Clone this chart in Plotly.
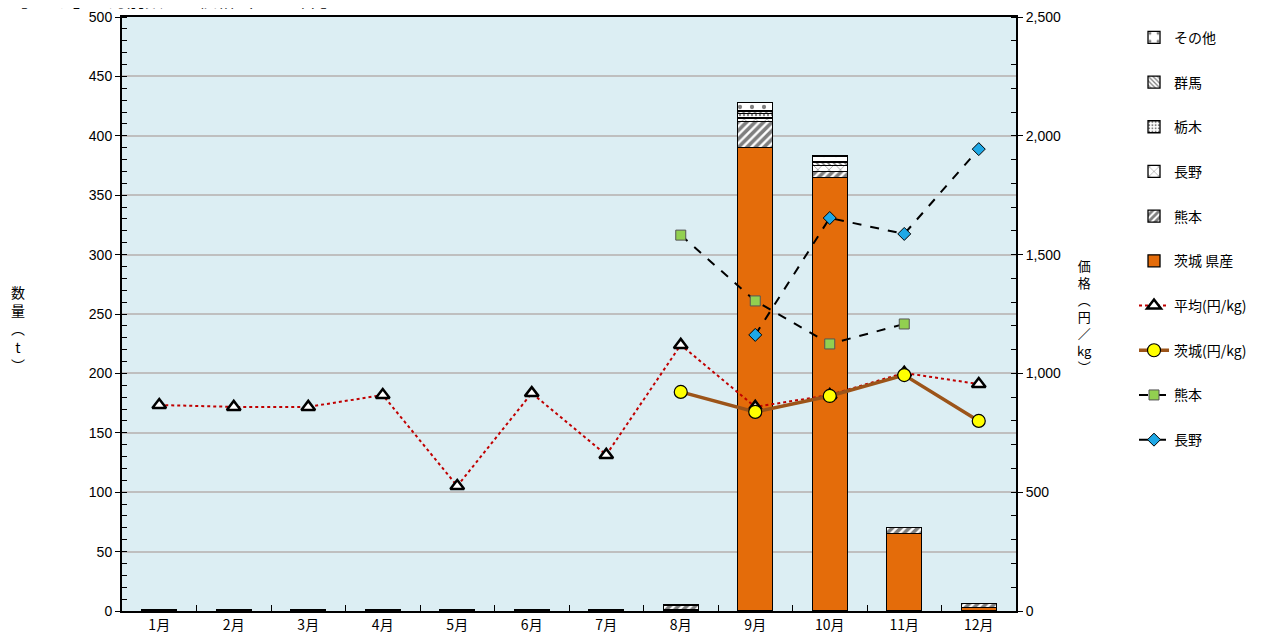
import plotly.graph_objs as go

months = [f"{m}月" for m in range(1, 13)]

# quantities (t), stacked
qty_ibaraki = [0, 0, 0, 0, 0, 0, 0, 1.5, 390, 365, 65, 3]
qty_kumamoto = [0.8, 0.8, 0.8, 0.8, 0.8, 0.8, 0.8, 3.5, 22, 5, 5.5, 3.5]
qty_nagano = [0, 0, 0, 0, 0, 0, 0, 0, 3, 5, 0, 0]
qty_tochigi = [0, 0, 0, 0, 0, 0, 0, 0, 4, 0, 0, 0]
qty_gunma = [0, 0, 0, 0, 0, 0, 0, 0, 2, 3, 0, 0]
qty_other = [0, 0, 0, 0, 0, 0, 0, 0, 7, 5, 0, 0]

# prices (yen/kg)
price_avg = [867, 859, 859, 909, 526, 917, 657, 1120, 859, 909, 1002, 955]
price_ibaraki = [None, None, None, None, None, None, None, 922, 838, 905, 993, 800]
price_kumamoto = [None, None, None, None, None, None, None, 1582, 1305, 1124, 1208, None]
price_nagano = [None, None, None, None, None, None, None, None, 1162, 1654, 1587, 1944]

JP = "Noto Sans CJK JP"
NUM = "Liberation Sans"

fig = go.Figure()

bar_line = dict(color="black", width=1.3)
bars = [
    ("茨城 県産", qty_ibaraki, dict(color="#E46C0A", line=bar_line), 6),
    ("熊本", qty_kumamoto, dict(color="white", line=bar_line,
                               pattern=dict(shape="/", fgcolor="black", bgcolor="white", size=6, solidity=0.6)), 5),
    ("長野", qty_nagano, dict(color="white", line=bar_line,
                             pattern=dict(shape="x", fgcolor="black", bgcolor="white", size=8, solidity=0.15)), 4),
    ("栃木", qty_tochigi, dict(color="white", line=bar_line,
                             pattern=dict(shape=".", fgcolor="black", bgcolor="white", size=4, solidity=0.3)), 3),
    ("群馬", qty_gunma, dict(color="white", line=bar_line,
                             pattern=dict(shape="\\", fgcolor="black", bgcolor="white", size=4, solidity=0.4)), 2),
    ("その他", qty_other, dict(color="white", line=bar_line,
                              pattern=dict(shape=".", fgcolor="black", bgcolor="white", size=12, solidity=0.1)), 1),
]
for name, vals, marker, rank in bars:
    fig.add_trace(go.Bar(x=months, y=vals, name=name, marker=marker,
                         legendrank=rank, legendgroup=f"b{rank}"))

fig.add_trace(go.Scatter(
    x=months, y=price_avg, name="平均(円/kg)", yaxis="y2", mode="lines+markers",
    line=dict(color="#C00000", width=2, dash="dot"),
    marker=dict(symbol="triangle-up", size=12, color="white", line=dict(color="black", width=2.5)),
    legendrank=7, legendgroup="l7"))
fig.add_trace(go.Scatter(
    x=months, y=price_ibaraki, name="茨城(円/kg)", yaxis="y2", mode="lines+markers",
    line=dict(color="#9C5419", width=3.5),
    marker=dict(symbol="circle", size=13, color="#FFFF00", line=dict(color="black", width=1.2)),
    legendrank=8, legendgroup="l8"))
fig.add_trace(go.Scatter(
    x=months, y=price_kumamoto, name="熊本", yaxis="y2", mode="lines+markers",
    line=dict(color="black", width=2, dash="dash"),
    marker=dict(symbol="square", size=10, color="#92D050", line=dict(color="#555555", width=1)),
    legendrank=9, legendgroup="l9"))
fig.add_trace(go.Scatter(
    x=months, y=price_nagano, name="長野", yaxis="y2", mode="lines+markers",
    line=dict(color="black", width=2, dash="dash"),
    marker=dict(symbol="diamond", size=10, color="#1EA8E6", line=dict(color="black", width=1)),
    legendrank=10, legendgroup="l10"))

fig.update_layout(
    width=1268, height=642,
    margin=dict(l=114, r=260, t=9, b=39, autoexpand=False),
    paper_bgcolor="white",
    plot_bgcolor="#DCEEF3",
    barmode="stack",
    bargap=0.53,
    font=dict(family=NUM, size=14, color="black"),
    showlegend=True,
    legend=dict(x=1.132, y=0.992, xanchor="left", yanchor="top",
                traceorder="grouped", tracegroupgap=23.5,
                font=dict(family=JP, size=14), bgcolor="rgba(0,0,0,0)"),
    xaxis=dict(range=[-0.5, 11.5], automargin=False,
               tickfont=dict(family=JP, size=14), showline=True, linecolor="black", linewidth=2,
               mirror=True, ticks="inside", tickson="boundaries", ticklen=6, tickcolor="black",
               showgrid=False),
    yaxis=dict(range=[0, 500], dtick=50, automargin=False, showgrid=True, gridcolor="#BFBFBF",
               gridwidth=1.5, showline=True, linecolor="black", linewidth=2, ticks="outside",
               ticklen=5, tickcolor="black", zeroline=False,
               minor=dict(dtick=10, ticks="inside", ticklen=5, tickcolor="black", showgrid=False)),
    yaxis2=dict(range=[0, 2500], dtick=500, automargin=False, overlaying="y", side="right",
                showgrid=False, showline=True, linecolor="black", linewidth=2, ticks="outside",
                ticklen=5, tickcolor="black", tickformat=",", zeroline=False,
                minor=dict(dtick=100, ticks="inside", ticklen=5, tickcolor="black")),
)

# title sits mostly above the page edge, as in the source image
fig.add_annotation(text="【「くり」の月別数量・価格（2022年）】", xref="paper", yref="paper",
                   x=-0.128, y=1, xanchor="left", yanchor="bottom", yshift=2.5, showarrow=False,
                   font=dict(family=JP, size=18))
fig.add_annotation(text="数<br>量<br>︵<br>t<br>︶", xref="paper", yref="paper",
                   x=-0.116, y=0.475, xanchor="center", yanchor="middle", showarrow=False,
                   font=dict(family=JP, size=14))
fig.add_annotation(text="価<br>格<br>︵<br>円<br>／<br>kg<br>︶", xref="paper", yref="paper",
                   x=1.077, y=0.497, xanchor="center", yanchor="middle", showarrow=False,
                   font=dict(family=JP, size=13))

fig.write_html("out.html")
